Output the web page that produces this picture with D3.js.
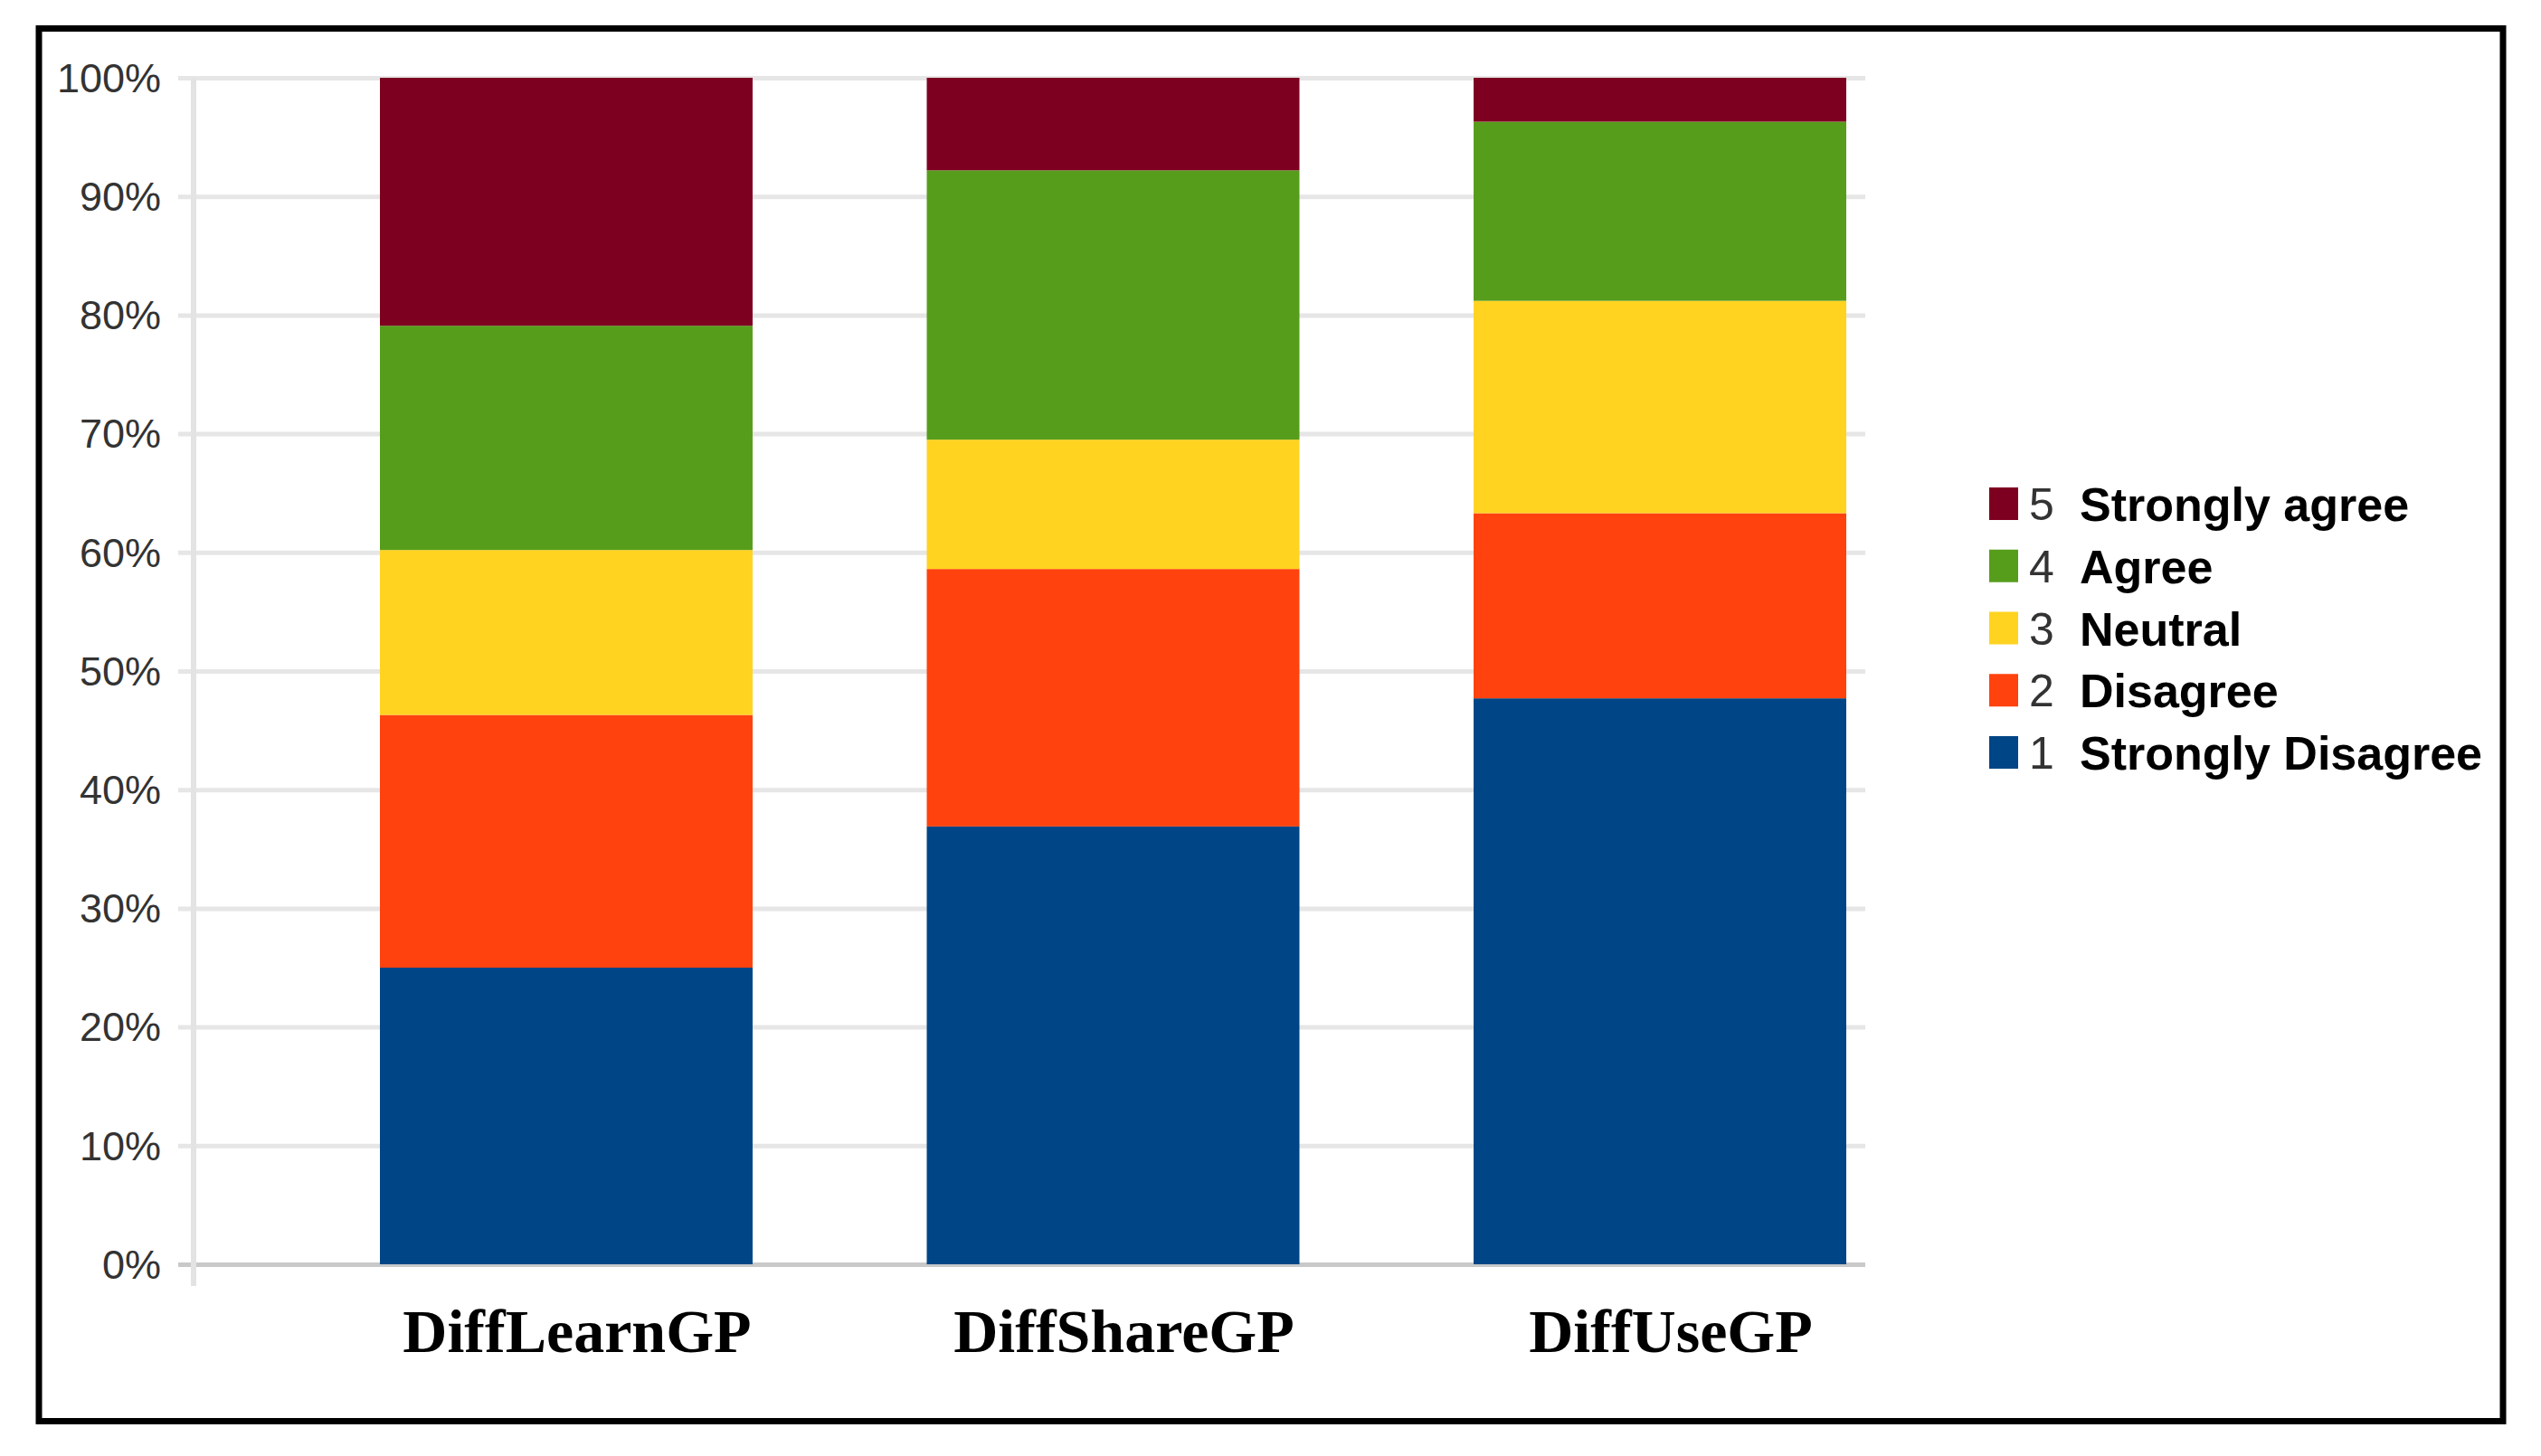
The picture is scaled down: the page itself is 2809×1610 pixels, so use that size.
<!DOCTYPE html>
<html>
<head>
<meta charset="utf-8">
<script src="https://cdn.jsdelivr.net/npm/d3@7"></script>
<style>
  html, body { margin: 0; padding: 0; background: #fff; }
  svg { display: block; }
  .tick-label text { font-family: "Liberation Sans", Arial, sans-serif; font-size: 45px; fill: #333; }
  .cat-label { font-family: "Liberation Serif", "Times New Roman", serif; font-weight: bold; font-size: 68px; fill: #000; }
  .legend-num { font-family: "Liberation Sans", Arial, sans-serif; font-size: 50px; fill: #333; }
  .legend-text { font-family: "Liberation Sans", Arial, sans-serif; font-weight: bold; font-size: 52px; fill: #000; }
</style>
</head>
<body>
<div id="chart"></div>
<script>
// Data (percent of responses)
const categories = ["DiffLearnGP", "DiffShareGP", "DiffUseGP"];
const levels = ["1", "2", "3", "4", "5"];
const levelNames = ["Strongly Disagree", "Disagree", "Neutral", "Agree", "Strongly agree"];
const levelColors = ["#004586", "#ff420e", "#ffd320", "#579d1c", "#7e0021"];
const stronglyDisagree = [25.0, 36.9, 47.7];
const disagree = [21.3, 21.7, 15.6];
const neutral = [13.9, 10.9, 17.9];
const agree = [18.9, 22.7, 15.1];
const stronglyAgree = [20.9, 7.8, 3.7];
const yTicks = [0, 10, 20, 30, 40, 50, 60, 70, 80, 90, 100];

const W = 2809, H = 1610;
const series = [stronglyDisagree, disagree, neutral, agree, stronglyAgree];
const rows = categories.map((c, i) => {
  const r = { cat: c };
  levels.forEach((k, j) => (r[k] = series[j][i]));
  return r;
});

const svg = d3.select("#chart").append("svg")
  .attr("width", W).attr("height", H);

// outer frame
svg.append("rect")
  .attr("x", 43).attr("y", 31.5)
  .attr("width", 2724).attr("height", 1540)
  .attr("fill", "#fff").attr("stroke", "#000").attr("stroke-width", 7);

// scales
const y = d3.scaleLinear().domain([0, 100]).range([1398, 86]);
const x = d3.scaleBand().domain(categories).range([420, 2041]).paddingInner(0.3185).paddingOuter(0);
const color = d3.scaleOrdinal().domain(levels).range(levelColors);

const gridLeft = 197, gridRight = 2062, axisX = 214;

// y axis with gridlines
const yAxis = svg.append("g")
  .attr("class", "tick-label")
  .attr("transform", `translate(${gridLeft},0)`)
  .call(d3.axisLeft(y).tickValues(yTicks).tickFormat(d => d + "%")
    .tickSizeInner(-(gridRight - gridLeft)).tickSizeOuter(0).tickPadding(19));
yAxis.select(".domain").remove();
yAxis.selectAll(".tick line")
  .attr("stroke", d => d === 0 ? "#c9c9c9" : "#e6e6e6")
  .attr("stroke-width", 5);
yAxis.selectAll(".tick text").attr("dy", "0.34em");

// vertical axis line
svg.append("line")
  .attr("x1", axisX).attr("x2", axisX)
  .attr("y1", y(100)).attr("y2", y(0) + 24)
  .attr("stroke", "#e3e3e3").attr("stroke-width", 6);

// stacked bars
const stacked = d3.stack().keys(levels)(rows);
svg.append("g").selectAll("g")
  .data(stacked)
  .join("g")
  .attr("fill", d => color(d.key))
  .selectAll("rect")
  .data(d => d)
  .join("rect")
  .attr("x", d => x(d.data.cat))
  .attr("y", d => y(d[1]))
  .attr("width", x.bandwidth())
  .attr("height", d => y(d[0]) - y(d[1]));

// category labels
svg.append("g").selectAll("text")
  .data(categories)
  .join("text")
  .attr("class", "cat-label")
  .attr("text-anchor", "middle")
  .attr("x", d => x(d) + x.bandwidth() / 2 + 12)
  .attr("y", 1495)
  .text(d => d);

// legend, top item is level 5
const legendY = d3.scalePoint().domain(levels.slice().reverse()).range([557, 832]);
const legend = svg.append("g").selectAll("g")
  .data(levels.slice().reverse())
  .join("g")
  .attr("transform", d => `translate(2199,${legendY(d)})`);
legend.append("rect")
  .attr("x", 0).attr("y", -18)
  .attr("width", 32).attr("height", 36)
  .attr("fill", d => color(d));
legend.append("text")
  .attr("class", "legend-num")
  .attr("x", 44).attr("y", 18)
  .text(d => d);
legend.append("text")
  .attr("class", "legend-text")
  .attr("x", 100).attr("y", 19)
  .text(d => levelNames[levels.indexOf(d)]);
</script>
</body>
</html>
